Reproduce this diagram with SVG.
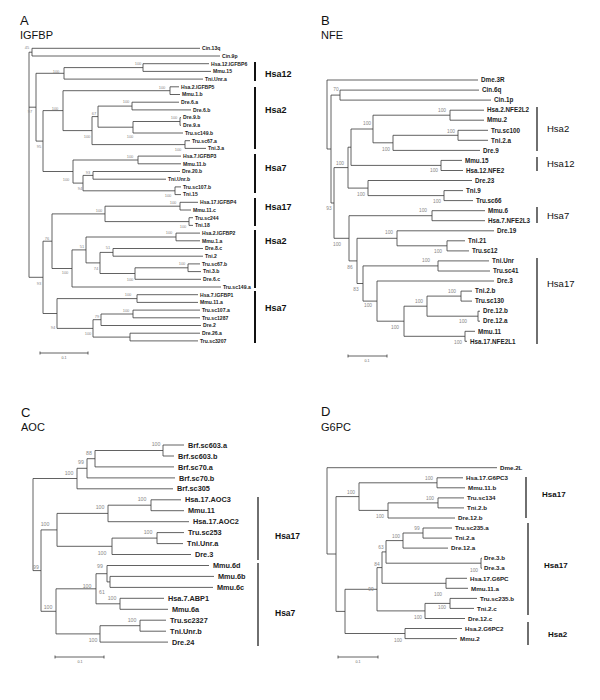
<svg xmlns="http://www.w3.org/2000/svg" width="600" height="700" viewBox="0 0 600 700">
<style>
.ln{fill:none;stroke:#3a3a3a;stroke-width:0.8}
.br{fill:none;stroke:#111;stroke-width:1.2}
.bra{fill:none;stroke:#111;stroke-width:2}
.ttl{font-family:"Liberation Sans",Arial,sans-serif;fill:#111}
.la{font-family:"Liberation Sans",Arial,sans-serif;font-weight:bold;font-size:5.1px;fill:#222}
.lb{font-family:"Liberation Sans",Arial,sans-serif;font-weight:bold;font-size:6.3px;fill:#222}
.lc{font-family:"Liberation Sans",Arial,sans-serif;font-weight:bold;font-size:7.3px;fill:#222}
.ld{font-family:"Liberation Sans",Arial,sans-serif;font-weight:bold;font-size:6.2px;fill:#222}
.bs{font-family:"Liberation Sans",Arial,sans-serif;fill:#888;text-anchor:middle}
.ba{font-size:4px}.bb{font-size:4.8px}.bc{font-size:5.2px}.bd{font-size:4.8px}
.cl{font-family:"Liberation Sans",Arial,sans-serif;fill:#111}
.sc{font-family:"Liberation Sans",Arial,sans-serif;fill:#666;font-size:3.6px;text-anchor:middle}
</style>
<rect width="600" height="700" fill="#fff"/>

<!-- Titles -->
<g id="titleA"><text class="ttl" x="20" y="25" font-size="13">A</text><text class="ttl" x="20" y="39" font-size="11">IGFBP</text></g>
<g id="titleB"><text class="ttl" x="321" y="25" font-size="13">B</text><text class="ttl" x="321" y="39" font-size="11">NFE</text></g>
<g id="titleC"><text class="ttl" x="21" y="417" font-size="13">C</text><text class="ttl" x="21" y="431" font-size="11">AOC</text></g>
<g id="titleD"><text class="ttl" x="321" y="416" font-size="13">D</text><text class="ttl" x="321" y="431" font-size="11">G6PC</text></g>

<!-- Connectors -->
<g id="connectors">
<path class="ln" d="M29 52.2V277.3M29 52.2H32M32 48.3V56M32 48.3H200M32 56H220
M29 107.2H36M36 73.3V141.1M36 73.3H64M64 67.6V79.1M64 67.6H143M143 63.7V71.4M143 63.7H209M143 71.4H211M64 79.1H203
M36 141.1H43M43 110.6V171.5M43 110.6H63M63 90.7V130.6M63 90.7H170M170 86.8V94.5M170 86.8H179M170 94.5H180
M63 130.6H92M92 116.6V144.6M92 116.6H98M98 106.1V127.2M98 106.1H132M132 102.2V109.9M132 102.2H179M132 109.9H191
M98 127.2H133M133 121.5V133M133 121.5H180M180 117.6V125.3M180 117.6H181M180 125.3H181M133 133H183
M92 144.6H185M185 140.7V148.4M185 140.7H190M185 148.4H206
M43 171.5H73M73 160V183.1M73 160H138M138 156.1V163.8M138 156.1H181M138 163.8H181
M73 183.1H83M83 175.4V190.8M83 175.4H93M93 171.5V179.2M93 171.5H180M93 179.2H166
M83 190.8H175M175 186.9V194.6M175 186.9H181M175 194.6H181
M29 277.3H43M43 241.2V313.5M43 241.2H52M52 213.9V268.5M52 213.9H105M105 206.2V221.6
M105 206.2H180M180 202.3V210M180 202.3H198M180 210H191M105 221.6H189M189 217.7V225.4M189 217.7H193M189 225.4H193
M52 268.5H72M72 249.9V287M72 249.9H86M86 237V262.9M86 237H176M176 233.1V240.8M176 233.1H200M176 240.8H200
M86 262.9H100M100 252.4V273.5M100 252.4H113M113 248.5V256.2M113 248.5H203M113 256.2H203
M100 273.5H135M135 267.8V279.3M135 267.8H188M188 263.9V271.6M188 263.9H200M188 271.6H201M135 279.3H201M72 287H221
M43 313.5H57M57 298.6V328.4M57 298.6H137M137 294.7V302.4M137 294.7H198M137 302.4H198
M57 328.4H93M93 319.7V337.1M93 319.7H101M101 314V325.5M101 314H133M133 310.1V317.8M133 310.1H200M133 317.8H200M101 325.5H201
M93 337.1H130M130 333.2V340.9M130 333.2H200M130 340.9H198"/>
<path class="ln" d="M327 80V149M327 80H478M327 149H331M331 95.1V203M331 95.1H340M340 90.1V100.1M340 90.1H479M340 100.1H491
M331 203H334M334 167.6V238.3M334 167.6H348M348 147.2V188.1M348 147.2H351M351 129V165.4M351 129H373M373 115.2V142.8
M373 115.2H450M450 110.2V120.2M450 110.2H484M450 120.2H484M373 142.8H393M393 135.3V150.4M393 135.3H458M458 130.3V140.3M458 130.3H488M458 140.3H488M393 150.4H480
M351 165.4H441M441 160.4V170.5M441 160.4H462M441 170.5H463
M348 188.1H368M368 180.5V195.6M368 180.5H472M368 195.6H444M444 190.6V200.6M444 190.6H463M444 200.6H473
M334 238.3H349M349 215.7V260.9M349 215.7H432M432 210.7V220.7M432 210.7H485M432 220.7H485
M349 260.9H357M357 238.3V283.5M357 238.3H397M397 230.8V245.8M397 230.8H494M397 245.8H447M447 240.8V250.9M447 240.8H465M447 250.9H469
M357 283.5H363M363 265.9V301.1M363 265.9H438M438 260.9V271M438 260.9H489M438 271H490
M363 301.1H377M377 281V321.2M377 281H494M377 321.2H404M404 306.2V336.3M404 306.2H427M427 296.1V316.2
M427 296.1H461M461 291.1V301.1M461 291.1H472M461 301.1H472M427 316.2H478M478 311.2V321.2M478 311.2H480M478 321.2H480
M404 336.3H465M465 331.3V341.3M465 331.3H475M465 341.3H467"/>
<path class="ln" d="M33 478.5V570.6M33 478.5H77M77 468.3V488.8M77 468.3H87M87 458.7V477.9M87 458.7H95M95 450.5V466.9M95 450.5H163M163 445V456M163 445H184M163 456H174M95 466.9H174M87 477.9H175M77 488.8H173
M33 570.6H41M41 529.9V611.3M41 529.9H57M57 513.4V546.3M57 513.4H108M108 505.2V521.7M108 505.2H151M151 499.8V510.7M151 499.8H181M151 510.7H184M108 521.7H189
M57 546.3H112M112 538.1V554.5M112 538.1H157M157 532.6V543.6M157 532.6H184M157 543.6H183M112 554.5H191
M41 611.3H56M56 588.8V633.9M56 588.8H96M96 573.7V603.8M96 573.7H107M107 565.5V581.9M107 565.5H209M107 581.9H110M110 576.4V587.4M110 576.4H214M110 587.4H213
M96 603.8H120M120 598.3V609.3M120 598.3H164M120 609.3H168
M56 633.9H100M100 625.7V642.1M100 625.7H140M140 620.2V631.2M140 620.2H166M140 631.2H166M100 642.1H168"/>
<path class="ln" d="M327 467.7V554M327 467.7H497M327 554H336M336 496.6V611.4M336 496.6H359M359 482.8V510.4
M359 482.8H437M437 477.8V487.8M437 477.8H463M437 487.8H465M359 510.4H388M388 502.9V518M388 502.9H438M438 497.9V507.9M438 497.9H464M438 507.9H464M388 518H455
M336 611.4H345M345 589.3V633.5M345 589.3H377M377 567.6V610.9M377 567.6H382M382 551.9V583.3M382 551.9H386M386 540.6V563.2
M386 540.6H403M403 533V548.1M403 533H423M423 528V538.1M423 528H452M423 538.1H452M403 548.1H448
M386 563.2H481M481 558.2V568.2M481 558.2H482M481 568.2H482M382 583.3H446M446 578.3V588.3M446 578.3H467M446 588.3H468
M377 610.9H425M425 603.4V618.5M425 603.4H450M450 598.4V608.4M450 598.4H477M450 608.4H474M425 618.5H465
M345 633.5H405M405 628.5V638.6M405 628.5H462M405 638.6H457"/>
</g>

<!-- Bootstrap values -->
<g id="bootstrapA" class="bs ba">
<text x="27" y="49">45</text><text x="138" y="64.5">100</text><text x="56" y="72.5">100</text><text x="162" y="88.5">100</text>
<text x="126" y="102.5">100</text><text x="174" y="118.5">100</text><text x="130" y="137.5">100</text><text x="94" y="114.5">67</text>
<text x="178" y="150.5">100</text><text x="87" y="137.5">100</text><text x="55" y="109.5">100</text><text x="130" y="157.5">100</text>
<text x="88" y="173.5">93</text><text x="168" y="196.5">100</text><text x="80" y="189.5">94</text><text x="66" y="180.5">100</text>
<text x="39" y="147.5">95</text><text x="30" y="112.5">97</text><text x="173" y="203.5">100</text><text x="183" y="227.5">100</text>
<text x="99" y="211.5">100</text><text x="169" y="233.5">100</text><text x="108" y="248.5">51</text><text x="182" y="264.5">100</text>
<text x="130" y="280.5">100</text><text x="96" y="269.5">74</text><text x="82" y="247.5">51</text><text x="65" y="273.5">100</text>
<text x="47" y="239.5">76</text><text x="128" y="295.5">100</text><text x="126" y="311.5">100</text><text x="97" y="317.5">79</text>
<text x="88" y="334.5">100</text><text x="53" y="328.5">94</text><text x="39" y="284.5">93</text>
</g>
<g id="bootstrapB" class="bs bb">
<text x="336" y="90.5">70</text><text x="442" y="111.5">100</text><text x="451" y="132.5">100</text><text x="386" y="150.5">100</text>
<text x="367" y="124.5">100</text><text x="434" y="171.5">100</text><text x="340" y="164.5">100</text><text x="437" y="202.5">100</text>
<text x="361" y="195.5">100</text><text x="329" y="209.5">93</text><text x="423" y="211.5">100</text><text x="438" y="252.5">100</text>
<text x="389" y="233.5">100</text><text x="426" y="261.5">100</text><text x="452" y="292.5">100</text><text x="463" y="322.5">100</text>
<text x="419" y="302.5">100</text><text x="458" y="343.5">100</text><text x="395" y="328.5">100</text><text x="368" y="306.5">100</text>
<text x="356" y="290.5">83</text><text x="350" y="268.5">86</text><text x="337" y="245.5">100</text>
</g>
<g id="bootstrapC" class="bs bc">
<text x="156" y="445.5">100</text><text x="89" y="454.5">88</text><text x="81" y="463.5">99</text><text x="69" y="474.5">100</text>
<text x="142" y="500.5">100</text><text x="100" y="508.5">100</text><text x="148" y="533.5">100</text><text x="102" y="554.5">100</text>
<text x="45" y="525.5">100</text><text x="102" y="593.5">61</text><text x="100" y="567.5">99</text><text x="112" y="599.5">100</text>
<text x="87" y="587.5">100</text><text x="132" y="621.5">100</text><text x="93" y="641.5">100</text><text x="48" y="608.5">100</text>
<text x="36" y="568.5">99</text>
</g>
<g id="bootstrapD" class="bs bd">
<text x="429" y="479.5">100</text><text x="430" y="499.5">100</text><text x="380" y="517.5">100</text><text x="351" y="493.5">100</text>
<text x="417" y="529.5">99</text><text x="396" y="537.5">100</text><text x="474" y="571.5">100</text><text x="381" y="548.5">63</text>
<text x="438" y="595.5">100</text><text x="377" y="565.5">84</text><text x="442" y="608.5">100</text><text x="418" y="618.5">100</text>
<text x="371" y="590.5">99</text><text x="398" y="641.5">100</text>
</g>

<!-- Leaves A -->
<g id="A-Cin13q"><text class="la" x="202" y="50.1">Cin.13q</text></g>
<g id="A-Cin9p"><text class="la" x="222" y="57.8">Cin.9p</text></g>
<g id="A-Hsa12IGFBP6"><text class="la" x="211" y="65.5">Hsa.12.IGFBP6</text></g>
<g id="A-Mmu15"><text class="la" x="213" y="73.2">Mmu.15</text></g>
<g id="A-TniUnra"><text class="la" x="205" y="80.9">Tni.Unr.a</text></g>
<g id="A-Hsa2IGFBP5"><text class="la" x="181" y="88.6">Hsa.2.IGFBP5</text></g>
<g id="A-Mmu1b"><text class="la" x="182" y="96.3">Mmu.1.b</text></g>
<g id="A-Dre6a"><text class="la" x="181" y="104">Dre.6.a</text></g>
<g id="A-Dre6b"><text class="la" x="193" y="111.7">Dre.6.b</text></g>
<g id="A-Dre9b"><text class="la" x="183" y="119.4">Dre.9.b</text></g>
<g id="A-Dre9a"><text class="la" x="183" y="127.1">Dre.9.a</text></g>
<g id="A-Trusc149b"><text class="la" x="185" y="134.8">Tru.sc149.b</text></g>
<g id="A-Trusc67a"><text class="la" x="192" y="142.5">Tru.sc67.a</text></g>
<g id="A-Tni3a"><text class="la" x="208" y="150.2">Tni.3.a</text></g>
<g id="A-Hsa7IGFBP3"><text class="la" x="183" y="157.9">Hsa.7.IGFBP3</text></g>
<g id="A-Mmu11b"><text class="la" x="183" y="165.6">Mmu.11.b</text></g>
<g id="A-Dre20b"><text class="la" x="182" y="173.3">Dre.20.b</text></g>
<g id="A-TniUnrb"><text class="la" x="168" y="181">Tni.Unr.b</text></g>
<g id="A-Trusc107b"><text class="la" x="183" y="188.7">Tru.sc107.b</text></g>
<g id="A-Tni15"><text class="la" x="183" y="196.4">Tni.15</text></g>
<g id="A-Hsa17IGFBP4"><text class="la" x="200" y="204.1">Hsa.17.IGFBP4</text></g>
<g id="A-Mmu11c"><text class="la" x="193" y="211.8">Mmu.11.c</text></g>
<g id="A-Trusc244"><text class="la" x="195" y="219.5">Tru.sc244</text></g>
<g id="A-Tni18"><text class="la" x="195" y="227.2">Tni.18</text></g>
<g id="A-Hsa2IGFBP2"><text class="la" x="202" y="234.9">Hsa.2.IGFBP2</text></g>
<g id="A-Mmu1a"><text class="la" x="202" y="242.6">Mmu.1.a</text></g>
<g id="A-Dre8c"><text class="la" x="205" y="250.3">Dre.8.c</text></g>
<g id="A-Tni2"><text class="la" x="205" y="258">Tni.2</text></g>
<g id="A-Trusc67b"><text class="la" x="202" y="265.7">Tru.sc67.b</text></g>
<g id="A-Tni3b"><text class="la" x="203" y="273.4">Tni.3.b</text></g>
<g id="A-Dre6c"><text class="la" x="203" y="281.1">Dre.6.c</text></g>
<g id="A-Trusc149a"><text class="la" x="223" y="288.8">Tru.sc149.a</text></g>
<g id="A-Hsa7IGFBP1"><text class="la" x="200" y="296.5">Hsa.7.IGFBP1</text></g>
<g id="A-Mmu11a"><text class="la" x="200" y="304.2">Mmu.11.a</text></g>
<g id="A-Trusc107a"><text class="la" x="202" y="311.9">Tru.sc107.a</text></g>
<g id="A-Trusc1287"><text class="la" x="202" y="319.6">Tru.sc1287</text></g>
<g id="A-Dre2"><text class="la" x="203" y="327.3">Dre.2</text></g>
<g id="A-Dre26a"><text class="la" x="202" y="335">Dre.26.a</text></g>
<g id="A-Trusc3207"><text class="la" x="200" y="342.7">Tru.sc3207</text></g>

<!-- Leaves B -->
<g id="B-Dme3R"><text class="lb" x="481" y="82.2">Dme.3R</text></g>
<g id="B-Cin6q"><text class="lb" x="482" y="92.3">Cin.6q</text></g>
<g id="B-Cin1p"><text class="lb" x="494" y="102.3">Cin.1p</text></g>
<g id="B-Hsa2NFE2L2"><text class="lb" x="487" y="112.4">Hsa.2.NFE2L2</text></g>
<g id="B-Mmu2"><text class="lb" x="487" y="122.4">Mmu.2</text></g>
<g id="B-Trusc100"><text class="lb" x="491" y="132.5">Tru.sc100</text></g>
<g id="B-Tni2a"><text class="lb" x="491" y="142.5">Tni.2.a</text></g>
<g id="B-Dre9"><text class="lb" x="483" y="152.6">Dre.9</text></g>
<g id="B-Mmu15"><text class="lb" x="465" y="162.6">Mmu.15</text></g>
<g id="B-Hsa12NFE2"><text class="lb" x="466" y="172.7">Hsa.12.NFE2</text></g>
<g id="B-Dre23"><text class="lb" x="475" y="182.7">Dre.23</text></g>
<g id="B-Tni9"><text class="lb" x="466" y="192.8">Tni.9</text></g>
<g id="B-Trusc66"><text class="lb" x="476" y="202.8">Tru.sc66</text></g>
<g id="B-Mmu6"><text class="lb" x="488" y="212.9">Mmu.6</text></g>
<g id="B-Hsa7NFE2L3"><text class="lb" x="488" y="222.9">Hsa.7.NFE2L3</text></g>
<g id="B-Dre19"><text class="lb" x="497" y="233">Dre.19</text></g>
<g id="B-Tni21"><text class="lb" x="468" y="243">Tni.21</text></g>
<g id="B-Trusc12"><text class="lb" x="472" y="253.1">Tru.sc12</text></g>
<g id="B-TniUnr"><text class="lb" x="492" y="263.1">Tni.Unr</text></g>
<g id="B-Trusc41"><text class="lb" x="493" y="273.2">Tru.sc41</text></g>
<g id="B-Dre3"><text class="lb" x="497" y="283.2">Dre.3</text></g>
<g id="B-Tni2b"><text class="lb" x="475" y="293.3">Tni.2.b</text></g>
<g id="B-Trusc130"><text class="lb" x="475" y="303.3">Tru.sc130</text></g>
<g id="B-Dre12b"><text class="lb" x="483" y="313.4">Dre.12.b</text></g>
<g id="B-Dre12a"><text class="lb" x="483" y="323.4">Dre.12.a</text></g>
<g id="B-Mmu11"><text class="lb" x="478" y="333.5">Mmu.11</text></g>
<g id="B-Hsa17NFE2L1"><text class="lb" x="470" y="343.5">Hsa.17.NFE2L1</text></g>

<!-- Leaves C -->
<g id="C-Brfsc603a"><text class="lc" x="188" y="447.6">Brf.sc603.a</text></g>
<g id="C-Brfsc603b"><text class="lc" x="178" y="458.6">Brf.sc603.b</text></g>
<g id="C-Brfsc70a"><text class="lc" x="178" y="469.5">Brf.sc70.a</text></g>
<g id="C-Brfsc70b"><text class="lc" x="179" y="480.5">Brf.sc70.b</text></g>
<g id="C-Brfsc305"><text class="lc" x="177" y="491.4">Brf.sc305</text></g>
<g id="C-Hsa17AOC3"><text class="lc" x="185" y="502.4">Hsa.17.AOC3</text></g>
<g id="C-Mmu11"><text class="lc" x="188" y="513.3">Mmu.11</text></g>
<g id="C-Hsa17AOC2"><text class="lc" x="193" y="524.3">Hsa.17.AOC2</text></g>
<g id="C-Trusc253"><text class="lc" x="188" y="535.2">Tru.sc253</text></g>
<g id="C-TniUnra"><text class="lc" x="187" y="546.2">Tni.Unr.a</text></g>
<g id="C-Dre3"><text class="lc" x="195" y="557.1">Dre.3</text></g>
<g id="C-Mmu6d"><text class="lc" x="213" y="568.1">Mmu.6d</text></g>
<g id="C-Mmu6b"><text class="lc" x="218" y="579">Mmu.6b</text></g>
<g id="C-Mmu6c"><text class="lc" x="217" y="590">Mmu.6c</text></g>
<g id="C-Hsa7ABP1"><text class="lc" x="168" y="600.9">Hsa.7.ABP1</text></g>
<g id="C-Mmu6a"><text class="lc" x="172" y="611.9">Mmu.6a</text></g>
<g id="C-Trusc2327"><text class="lc" x="170" y="622.8">Tru.sc2327</text></g>
<g id="C-TniUnrb"><text class="lc" x="170" y="633.8">Tni.Unr.b</text></g>
<g id="C-Dre24"><text class="lc" x="172" y="644.7">Dre.24</text></g>

<!-- Leaves D -->
<g id="D-Dme2L"><text class="ld" x="500" y="469.9">Dme.2L</text></g>
<g id="D-Hsa17G6PC3"><text class="ld" x="466" y="480">Hsa.17.G6PC3</text></g>
<g id="D-Mmu11b"><text class="ld" x="468" y="490">Mmu.11.b</text></g>
<g id="D-Trusc134"><text class="ld" x="467" y="500.1">Tru.sc134</text></g>
<g id="D-Tni2b"><text class="ld" x="467" y="510.1">Tni.2.b</text></g>
<g id="D-Dre12b"><text class="ld" x="458" y="520.2">Dre.12.b</text></g>
<g id="D-Trusc235a"><text class="ld" x="455" y="530.2">Tru.sc235.a</text></g>
<g id="D-Tni2a"><text class="ld" x="455" y="540.3">Tni.2.a</text></g>
<g id="D-Dre12a"><text class="ld" x="451" y="550.3">Dre.12.a</text></g>
<g id="D-Dre3b"><text class="ld" x="484" y="560.4">Dre.3.b</text></g>
<g id="D-Dre3a"><text class="ld" x="484" y="570.4">Dre.3.a</text></g>
<g id="D-Hsa17G6PC"><text class="ld" x="470" y="580.5">Hsa.17.G6PC</text></g>
<g id="D-Mmu11a"><text class="ld" x="471" y="590.5">Mmu.11.a</text></g>
<g id="D-Trusc235b"><text class="ld" x="480" y="600.6">Tru.sc235.b</text></g>
<g id="D-Tni2c"><text class="ld" x="477" y="610.6">Tni.2.c</text></g>
<g id="D-Dre12c"><text class="ld" x="468" y="620.7">Dre.12.c</text></g>
<g id="D-Hsa2G6PC2"><text class="ld" x="465" y="630.7">Hsa.2.G6PC2</text></g>
<g id="D-Mmu2"><text class="ld" x="460" y="640.8">Mmu.2</text></g>

<!-- Chromosome brackets -->
<g id="bracketsA">
<path class="bra" d="M255 62V81M255 87V149M255 154V193M255 198V226M255 230V288M255 291V343"/>
<g class="cl" font-weight="bold" font-size="9">
<text x="265" y="77">Hsa12</text><text x="265" y="113">Hsa2</text><text x="265" y="171">Hsa7</text>
<text x="265" y="210">Hsa17</text><text x="265" y="244">Hsa2</text><text x="265" y="311">Hsa7</text></g>
</g>
<g id="bracketsB">
<path class="br" d="M537 107V151M537 157V171M537 207V223M537 258V344"/>
<g class="cl" font-size="9.5">
<text x="547" y="132">Hsa2</text><text x="547" y="167">Hsa12</text><text x="547" y="219">Hsa7</text><text x="547" y="287">Hsa17</text></g>
</g>
<g id="bracketsC">
<path class="br" d="M258 497V560M258 563V646"/>
<g class="cl" font-weight="bold" font-size="8.5">
<text x="275" y="538.5">Hsa17</text><text x="275" y="616">Hsa7</text></g>
</g>
<g id="bracketsD">
<path class="br" d="M526 477V518M528 523V615M528 622V645"/>
<g class="cl" font-weight="bold" font-size="8">
<text x="542" y="497">Hsa17</text><text x="544" y="568">Hsa17</text><text x="548" y="637">Hsa2</text></g>
</g>

<!-- Scale bars -->
<g id="scaleA"><path class="ln" d="M40 353H88M40 351.5V354.5M88 351.5V354.5"/><text class="sc" x="64" y="359">0.1</text></g>
<g id="scaleB"><path class="ln" d="M348 356H387M348 354.5V357.5M387 354.5V357.5"/><text class="sc" x="367" y="362">0.1</text></g>
<g id="scaleC"><path class="ln" d="M55 657H104M55 655.5V658.5M104 655.5V658.5"/><text class="sc" x="80" y="663">0.1</text></g>
<g id="scaleD"><path class="ln" d="M338 657H378M338 655.5V658.5M378 655.5V658.5"/><text class="sc" x="358" y="663">0.1</text></g>
</svg>
